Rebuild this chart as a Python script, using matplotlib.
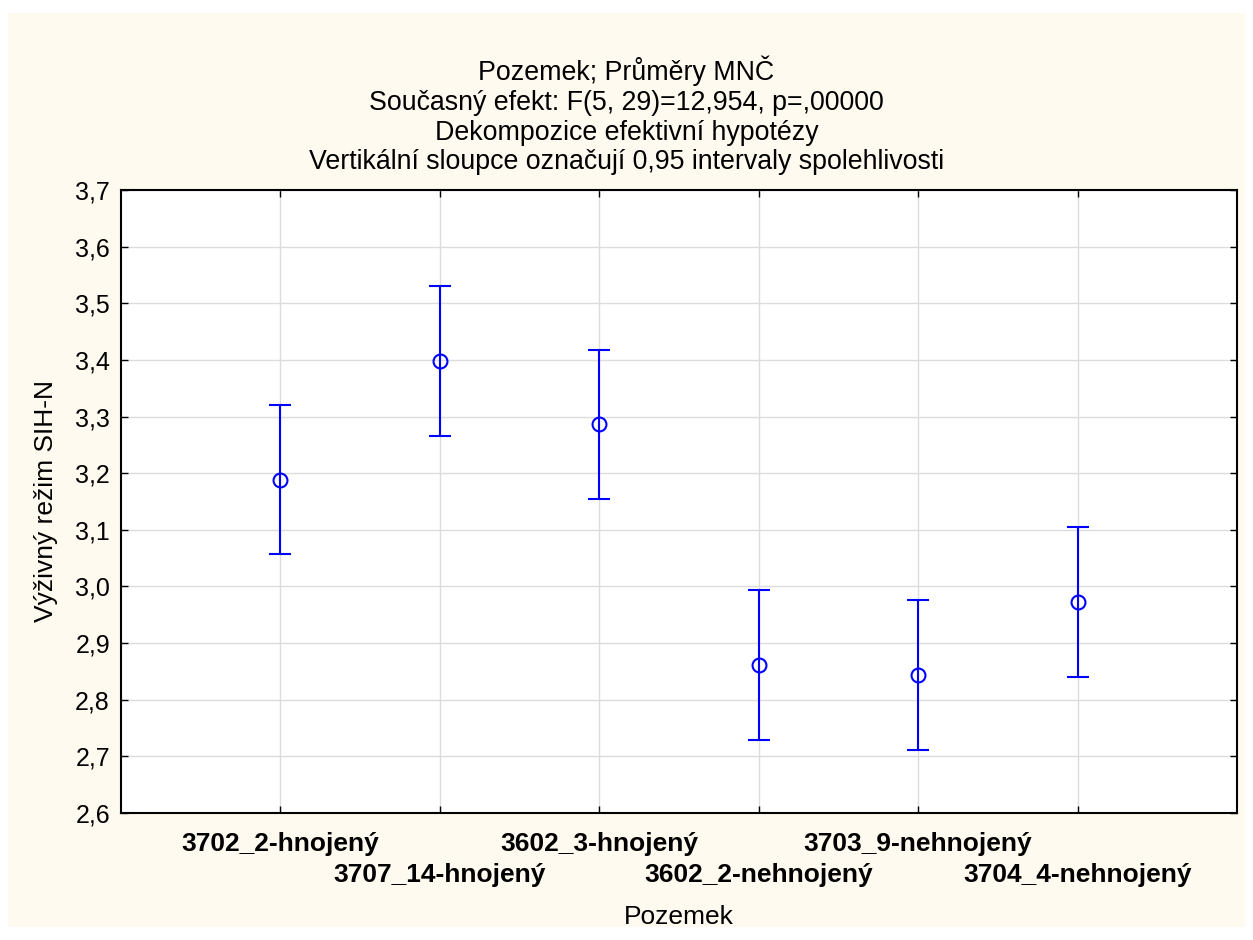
import numpy as np
import matplotlib.pyplot as plt
from matplotlib.patches import Rectangle

plt.rcParams['font.family'] = ['Liberation Sans', 'DejaVu Sans']

# data
pozemky = ['3702_2-hnojený', '3707_14-hnojený', '3602_3-hnojený',
           '3602_2-nehnojený', '3703_9-nehnojený', '3704_4-nehnojený']
prumery = [3.188, 3.398, 3.287, 2.861, 2.844, 2.973]
dolni = [3.057, 3.266, 3.155, 2.729, 2.711, 2.841]
horni = [3.320, 3.530, 3.418, 2.994, 2.976, 3.105]

titulek = ('Pozemek; Průměry MNČ\n'
           'Současný efekt: F(5, 29)=12,954, p=,00000\n'
           'Dekompozice efektivní hypotézy\n'
           'Vertikální sloupce označují 0,95 intervaly spolehlivosti')

fig = plt.figure(figsize=(12.53, 9.40), dpi=100, facecolor='white')
# krémové pozadí
fig.patches.append(Rectangle((8 / 1253, 13 / 940), 1237 / 1253, 914 / 940,
                             transform=fig.transFigure, facecolor='#FFFAF0',
                             edgecolor='none', zorder=-10))
ax = fig.add_axes([121 / 1253, 1 - 813 / 940, (1237 - 121) / 1253, (813 - 190) / 940])
ax.set_facecolor('white')

x = np.arange(1, len(pozemky) + 1)
prumery = np.array(prumery)
yerr = [prumery - np.array(dolni), np.array(horni) - prumery]
ax.errorbar(x, prumery, yerr=yerr, fmt='o', color='#0000FF', mfc='none',
            mec='#0000FF', ms=10, mew=1.5, elinewidth=1.5, capsize=8,
            capthick=1.5, zorder=3)

ax.set_xlim(0, 7)
ax.set_ylim(2.6, 3.7)
yt = np.round(np.arange(2.6, 3.71, 0.1), 1)
ax.set_yticks(yt)
ax.set_yticklabels([f'{v:.1f}'.replace('.', ',') for v in yt], fontsize=18)
ax.set_xticks(x)
ax.set_xticklabels(pozemky, fontsize=19, fontweight='bold')
ax.grid(True, color='#DCDCDC', linewidth=1)
ax.set_axisbelow(True)
ax.tick_params(direction='in', top=True, right=True, length=5, width=1, pad=8)
# popisky na dvou řadách
for i, t in enumerate(ax.xaxis.get_major_ticks()):
    t.set_pad(13.5 if i % 2 == 0 else 36)
for s in ax.spines.values():
    s.set_linewidth(1.5)

ax.set_xlabel('Pozemek', fontsize=19, labelpad=13)
ax.set_ylabel('Výživný režim SIH-N', fontsize=19, labelpad=12)
fig.text(0.5, 1 - 56 / 940, titulek, ha='center', va='top', fontsize=19.3,
         linespacing=1.18)

fig.savefig('out.png', dpi=100, facecolor='white')
